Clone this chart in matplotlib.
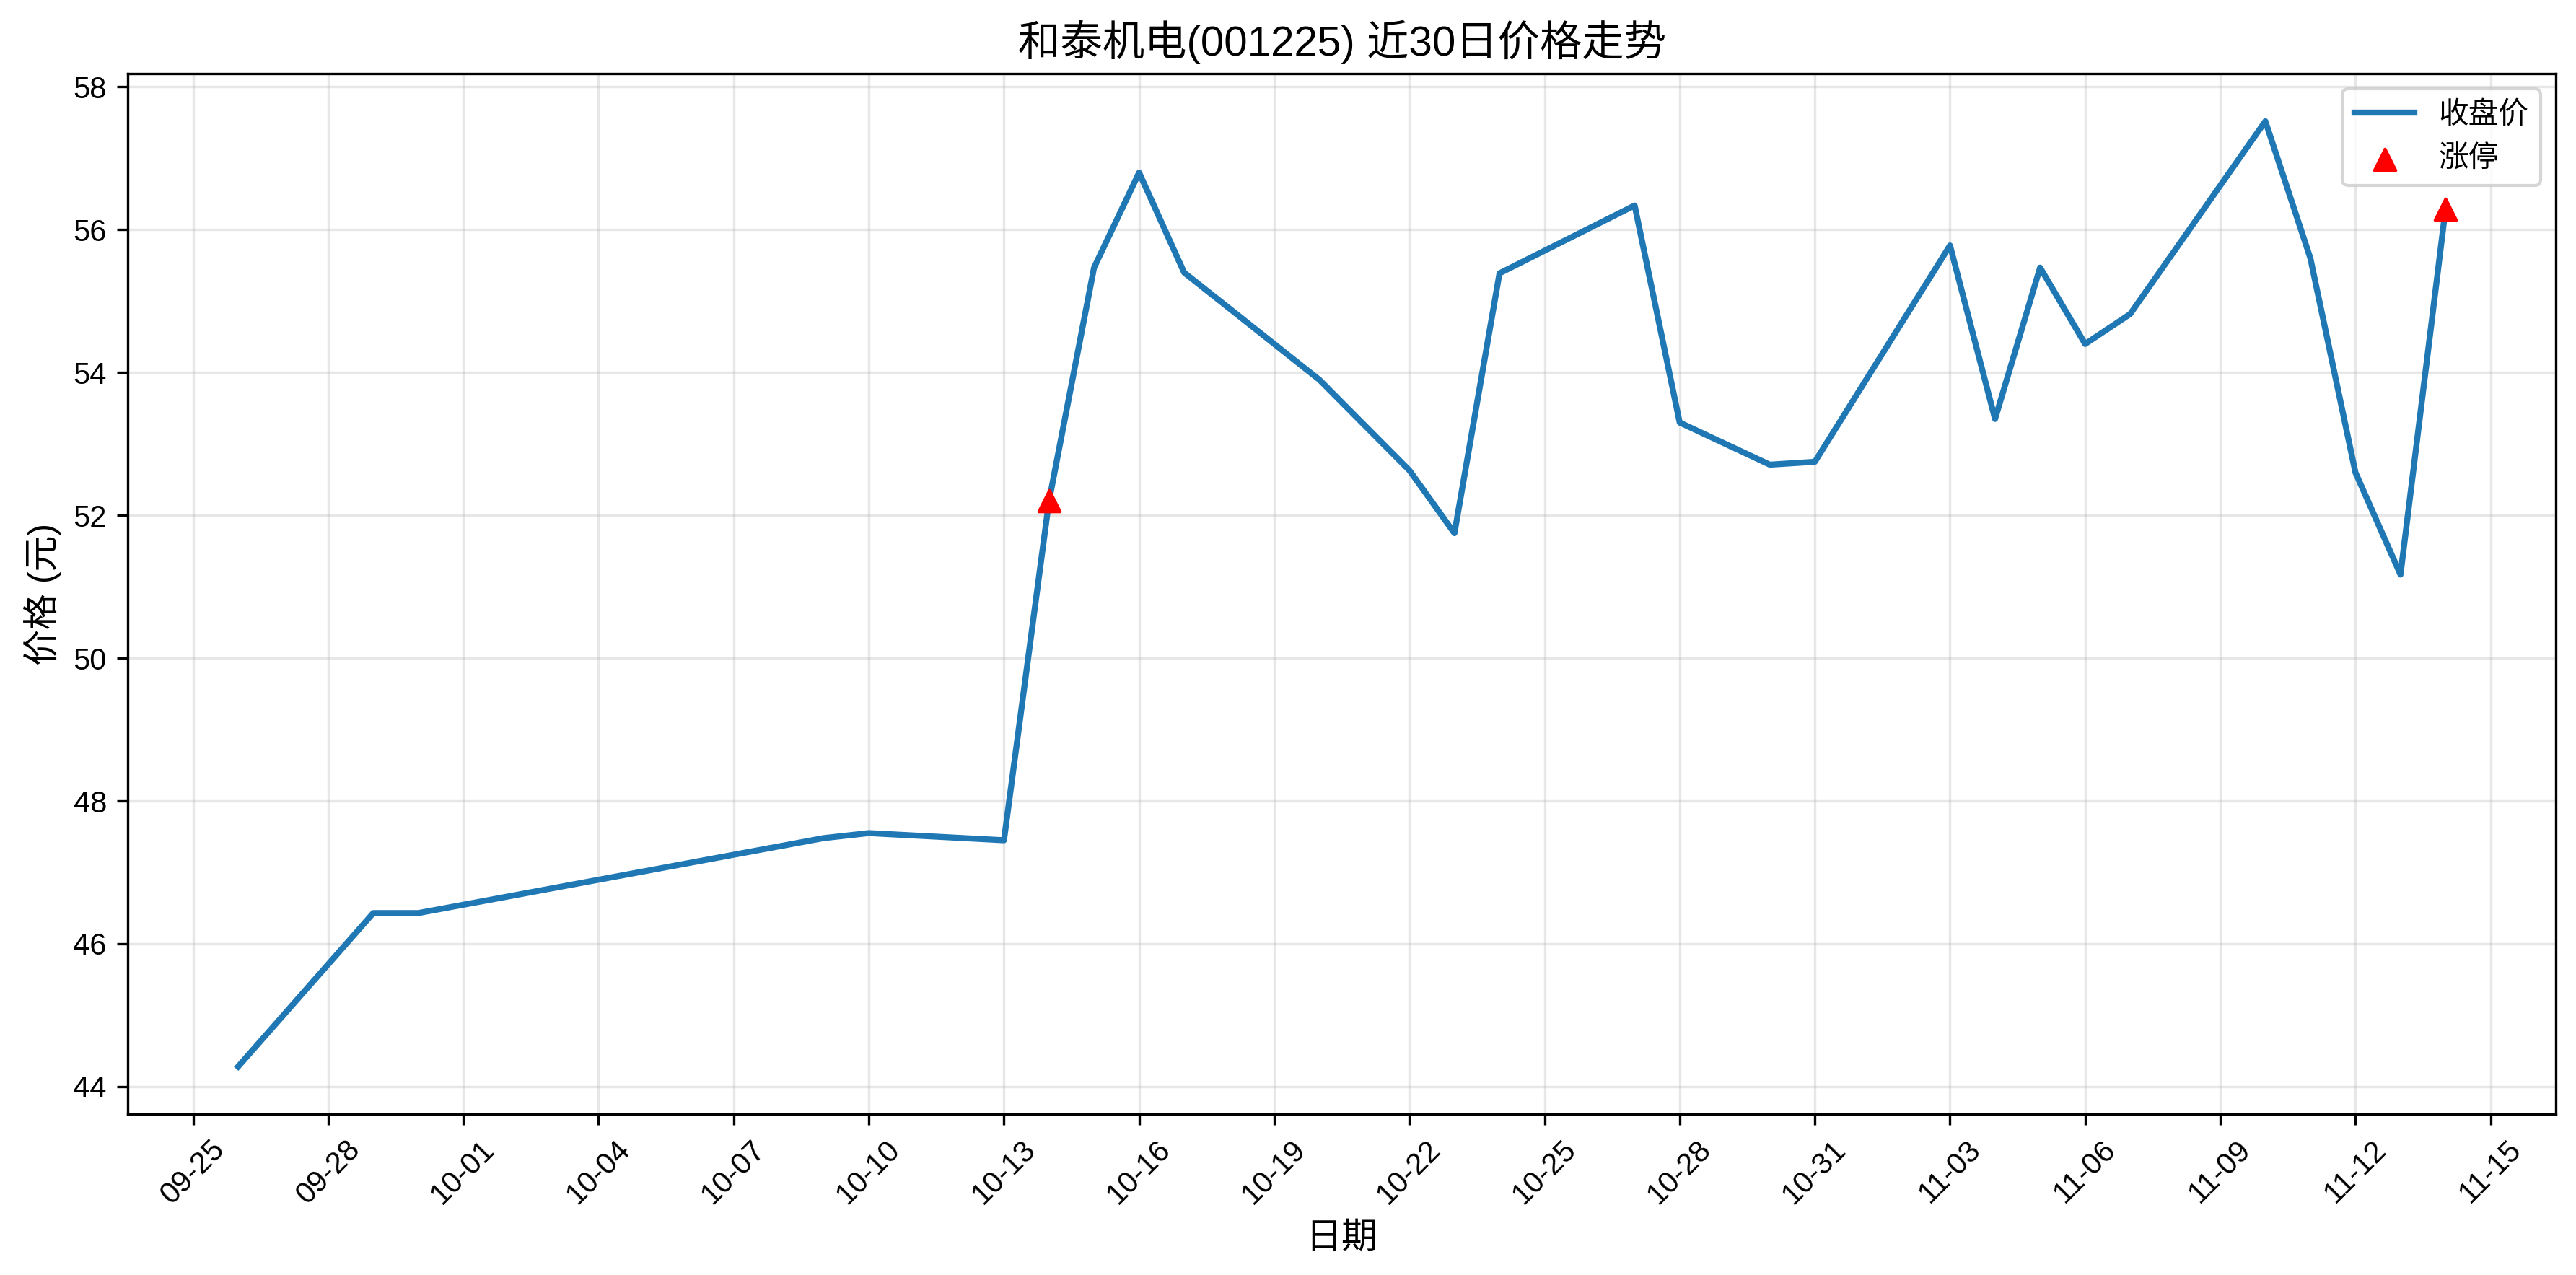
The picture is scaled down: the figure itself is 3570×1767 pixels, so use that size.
import matplotlib
matplotlib.use("Agg")
import matplotlib.pyplot as plt
import matplotlib.dates as mdates
import pandas as pd

plt.rcParams['font.family'] = ['Liberation Sans', 'Noto Sans CJK SC', 'DejaVu Sans']
plt.rcParams['axes.unicode_minus'] = False

# ---- data ----
dates = ['2025-09-26', '2025-09-29', '2025-09-30', '2025-10-09', '2025-10-10',
         '2025-10-13', '2025-10-14', '2025-10-15', '2025-10-16', '2025-10-17',
         '2025-10-20', '2025-10-22', '2025-10-23', '2025-10-24', '2025-10-27',
         '2025-10-28', '2025-10-30', '2025-10-31', '2025-11-03', '2025-11-04',
         '2025-11-05', '2025-11-06', '2025-11-07', '2025-11-10', '2025-11-11',
         '2025-11-12', '2025-11-13', '2025-11-14']
close = [44.28, 46.43, 46.43, 47.48, 47.55,
         47.45, 52.20, 55.47, 56.80, 55.40,
         53.90, 52.63, 51.75, 55.39, 56.34,
         53.30, 52.71, 52.75, 55.78, 53.35,
         55.47, 54.40, 54.82, 57.52, 55.60,
         52.60, 51.17, 56.29]
limit_dates = ['2025-10-14', '2025-11-14']
limit_prices = [52.20, 56.29]
tick_dates = ['2025-09-25', '2025-09-28', '2025-10-01', '2025-10-04', '2025-10-07',
              '2025-10-10', '2025-10-13', '2025-10-16', '2025-10-19', '2025-10-22',
              '2025-10-25', '2025-10-28', '2025-10-31', '2025-11-03', '2025-11-06',
              '2025-11-09', '2025-11-12', '2025-11-15']
yticks = [44, 46, 48, 50, 52, 54, 56, 58]

title = '和泰机电(001225) 近30日价格走势'
xlabel = '日期'
ylabel = '价格 (元)'
line_label = '收盘价'
limit_label = '涨停'

x = pd.to_datetime(dates)
lx = pd.to_datetime(limit_dates)

fig = plt.figure(figsize=(11.9, 5.89), dpi=300)
ax = fig.add_axes([0.0496, 0.1264, 0.9426, 0.8156])

ax.plot(x, close, color='#1f77b4', linewidth=2, label=line_label, zorder=2)
ax.scatter(lx, limit_prices, color='red', marker='^', s=50, label=limit_label, zorder=3)

ax.set_xticks(pd.to_datetime(tick_dates))
ax.xaxis.set_major_formatter(mdates.DateFormatter('%m-%d'))
ax.set_yticks(yticks)
plt.setp(ax.get_xticklabels(), rotation=45, fontsize=10)
plt.setp(ax.get_yticklabels(), fontsize=10)

# default 5% margins around the data
ax.set_xlim(x.min() - (x.max() - x.min()) * 0.05, x.max() + (x.max() - x.min()) * 0.05)
ymin, ymax = min(close), max(close)
ax.set_ylim(ymin - (ymax - ymin) * 0.05, ymax + (ymax - ymin) * 0.05)

ax.grid(True, alpha=0.3)
ax.set_title(title, fontsize=14)
ax.set_xlabel(xlabel, fontsize=12)
ax.set_ylabel(ylabel, fontsize=12)
ax.legend(loc='upper right', fontsize=10)

fig.savefig('out.png', dpi=300)
